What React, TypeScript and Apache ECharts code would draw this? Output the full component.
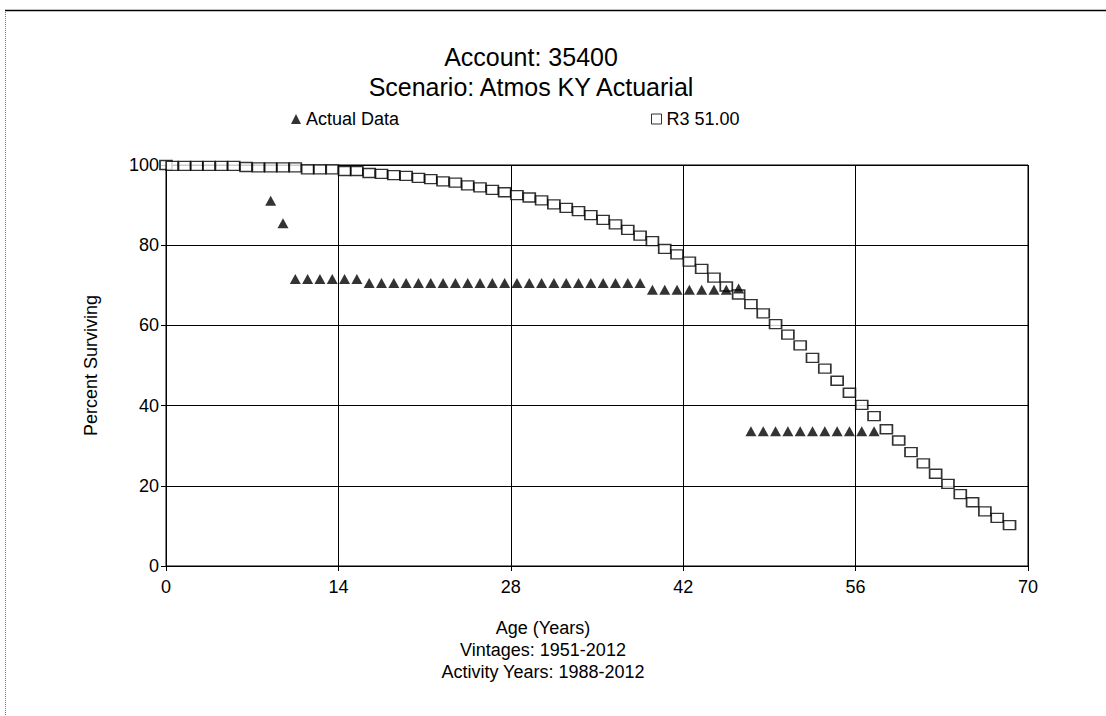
import React, { useEffect, useRef } from "react";
import * as echarts from "echarts";

const titleLines = ["Account: 35400", "Scenario: Atmos KY Actuarial"];
const xNameLines = ["Age (Years)", "Vintages: 1951-2012", "Activity Years: 1988-2012"];
const yName = "Percent Surviving";
const actualName = "Actual Data";
const curveName = "R3 51.00";

const xTicks = [0, 14, 28, 42, 56, 70];
const xTickLabels = ["0", "14", "28", "42", "56", "70"];
const yTicks = [0, 20, 40, 60, 80, 100];
const yTickLabels = ["0", "20", "40", "60", "80", "100"];

const actualAges = [
  8.5, 9.5,
  10.5, 11.5, 12.5, 13.5, 14.5, 15.5,
  16.5, 17.5, 18.5, 19.5, 20.5, 21.5, 22.5, 23.5, 24.5, 25.5, 26.5, 27.5,
  28.5, 29.5, 30.5, 31.5, 32.5, 33.5, 34.5, 35.5, 36.5, 37.5, 38.5,
  39.5, 40.5, 41.5, 42.5, 43.5, 44.5, 45.5, 46.5,
  47.5, 48.5, 49.5, 50.5, 51.5, 52.5, 53.5, 54.5, 55.5, 56.5, 57.5,
];
const actualValues = [
  91.1, 85.5,
  71.6, 71.6, 71.6, 71.6, 71.6, 71.6,
  70.6, 70.6, 70.6, 70.6, 70.6, 70.6, 70.6, 70.6, 70.6, 70.6, 70.6, 70.6,
  70.6, 70.6, 70.6, 70.6, 70.6, 70.6, 70.6, 70.6, 70.6, 70.6, 70.6,
  68.9, 68.9, 68.9, 68.9, 68.9, 68.9, 68.9, 69.2,
  33.6, 33.6, 33.6, 33.6, 33.6, 33.6, 33.6, 33.6, 33.6, 33.6, 33.6,
];

const curveAges = [
  0, 0.5, 1.5, 2.5, 3.5, 4.5, 5.5, 6.5, 7.5, 8.5, 9.5,
  10.5, 11.5, 12.5, 13.5, 14.5, 15.5, 16.5, 17.5, 18.5, 19.5,
  20.5, 21.5, 22.5, 23.5, 24.5, 25.5, 26.5, 27.5, 28.5, 29.5,
  30.5, 31.5, 32.5, 33.5, 34.5, 35.5, 36.5, 37.5, 38.5, 39.5,
  40.5, 41.5, 42.5, 43.5, 44.5, 45.5, 46.5, 47.5, 48.5, 49.5,
  50.5, 51.5, 52.5, 53.5, 54.5, 55.5, 56.5, 57.5, 58.5, 59.5,
  60.5, 61.5, 62.5, 63.5, 64.5, 65.5, 66.5, 67.5, 68.5,
];
const curveValues = [
  100, 99.8, 99.8, 99.8, 99.8, 99.8, 99.8, 99.5, 99.4, 99.4, 99.4,
  99.4, 98.9, 98.9, 98.9, 98.5, 98.5, 98.0, 97.8, 97.5, 97.3,
  96.8, 96.5, 95.9, 95.6, 94.9, 94.4, 93.8, 93.2, 92.5, 91.9,
  91.2, 90.2, 89.3, 88.5, 87.5, 86.3, 85.2, 83.8, 82.4, 81.0,
  79.1, 77.7, 75.9, 74.1, 71.9, 69.7, 67.7, 65.3, 63.0, 60.3,
  57.7, 55.0, 51.9, 49.2, 46.2, 43.2, 40.2, 37.4, 34.1, 31.3,
  28.4, 25.6, 23.0, 20.5, 17.9, 15.9, 13.6, 12.0, 10.2,
];

const FONT = "'Liberation Sans', Arial, sans-serif";

export default function App() {
  const ref = useRef<HTMLDivElement>(null);

  useEffect(() => {
    document.body.style.margin = "0";
    const el = ref.current!;
    const chart = echarts.init(el, null, { renderer: "svg" });

    const lab = (ticks: number[], labels: string[]) => (v: number) => {
      const i = ticks.indexOf(v);
      return i >= 0 ? labels[i] : "";
    };

    const legendBase = {
      top: 110,
      padding: 0,
      itemWidth: 10,
      itemHeight: 10,
      itemGap: 0,
      selectedMode: false,
      textStyle: { fontSize: 18, fontFamily: FONT, color: "#000" },
    };

    chart.setOption({
      animation: false,
      backgroundColor: "#ffffff",
      textStyle: { fontFamily: FONT, color: "#000" },
      grid: {
        left: 166,
        right: 78,
        top: 165,
        bottom: 150,
        show: true,
        borderColor: "#000",
        borderWidth: 1,
        backgroundColor: "transparent",
      },
      legend: [
        {
          ...legendBase,
          left: 291,
          data: [{ name: actualName, icon: "triangle", itemStyle: { color: "#000" } }],
        },
        {
          ...legendBase,
          left: 651,
          data: [
            {
              name: curveName,
              icon: "rect",
              itemStyle: { color: "#fff", borderColor: "#000", borderWidth: 1 },
            },
          ],
        },
      ],
      xAxis: {
        type: "value",
        min: 0,
        max: 70,
        interval: 14,
        axisLine: { show: true, onZero: false, lineStyle: { color: "#000", width: 1 } },
        axisTick: { show: true, length: 5, lineStyle: { color: "#000" } },
        axisLabel: {
          fontSize: 18,
          fontFamily: FONT,
          color: "#000",
          margin: 12,
          formatter: lab(xTicks, xTickLabels),
        },
        splitLine: { show: true, lineStyle: { color: "#000", width: 1 } },
      },
      yAxis: {
        type: "value",
        min: 0,
        max: 100,
        interval: 20,
        name: yName,
        nameLocation: "middle",
        nameGap: 66,
        nameRotate: 90,
        nameTextStyle: { fontSize: 18, fontFamily: FONT, color: "#000" },
        axisLine: { show: true, onZero: false, lineStyle: { color: "#000", width: 1 } },
        axisTick: { show: true, length: 5, lineStyle: { color: "#000" } },
        axisLabel: {
          fontSize: 18,
          fontFamily: FONT,
          color: "#000",
          margin: 7,
          formatter: lab(yTicks, yTickLabels),
        },
        splitLine: { show: true, lineStyle: { color: "#000", width: 1 } },
      },
      graphic: [
        {
          type: "line",
          shape: { x1: 5.5, y1: 10, x2: 5.5, y2: 716 },
          style: { stroke: "#777", lineWidth: 1, lineDash: [1, 1] },
          silent: true,
        },
        {
          type: "line",
          shape: { x1: 5, y1: 10.5, x2: 1106, y2: 10.5 },
          style: { stroke: "#000", lineWidth: 1.5 },
          silent: true,
        },
        ...titleLines.map((t, i) => ({
          type: "text",
          x: 531,
          y: 57 + i * 30,
          silent: true,
          style: {
            text: t,
            align: "center",
            verticalAlign: "middle",
            fontSize: 25,
            fontFamily: FONT,
            fill: "#000",
          },
        })),
        ...xNameLines.map((t, i) => ({
          type: "text",
          x: 543,
          y: 628 + i * 22,
          silent: true,
          style: {
            text: t,
            align: "center",
            verticalAlign: "middle",
            fontSize: 18,
            fontFamily: FONT,
            fill: "#000",
          },
        })),
      ],
      series: [
        {
          name: curveName,
          type: "scatter",
          symbol: "rect",
          symbolSize: [12, 9],
          itemStyle: { color: "#fff", borderColor: "#000", borderWidth: 1.5 },
          z: 3,
          data: curveAges.map((a, i) => [a, curveValues[i]]),
        },
        {
          name: actualName,
          type: "scatter",
          symbol: "triangle",
          symbolSize: [11, 10],
          itemStyle: { color: "#000" },
          z: 4,
          data: actualAges.map((a, i) => [a, actualValues[i]]),
        },
      ],
    });

    return () => chart.dispose();
  }, []);

  return <div ref={ref} style={{ width: 1106, height: 716 }} />;
}
